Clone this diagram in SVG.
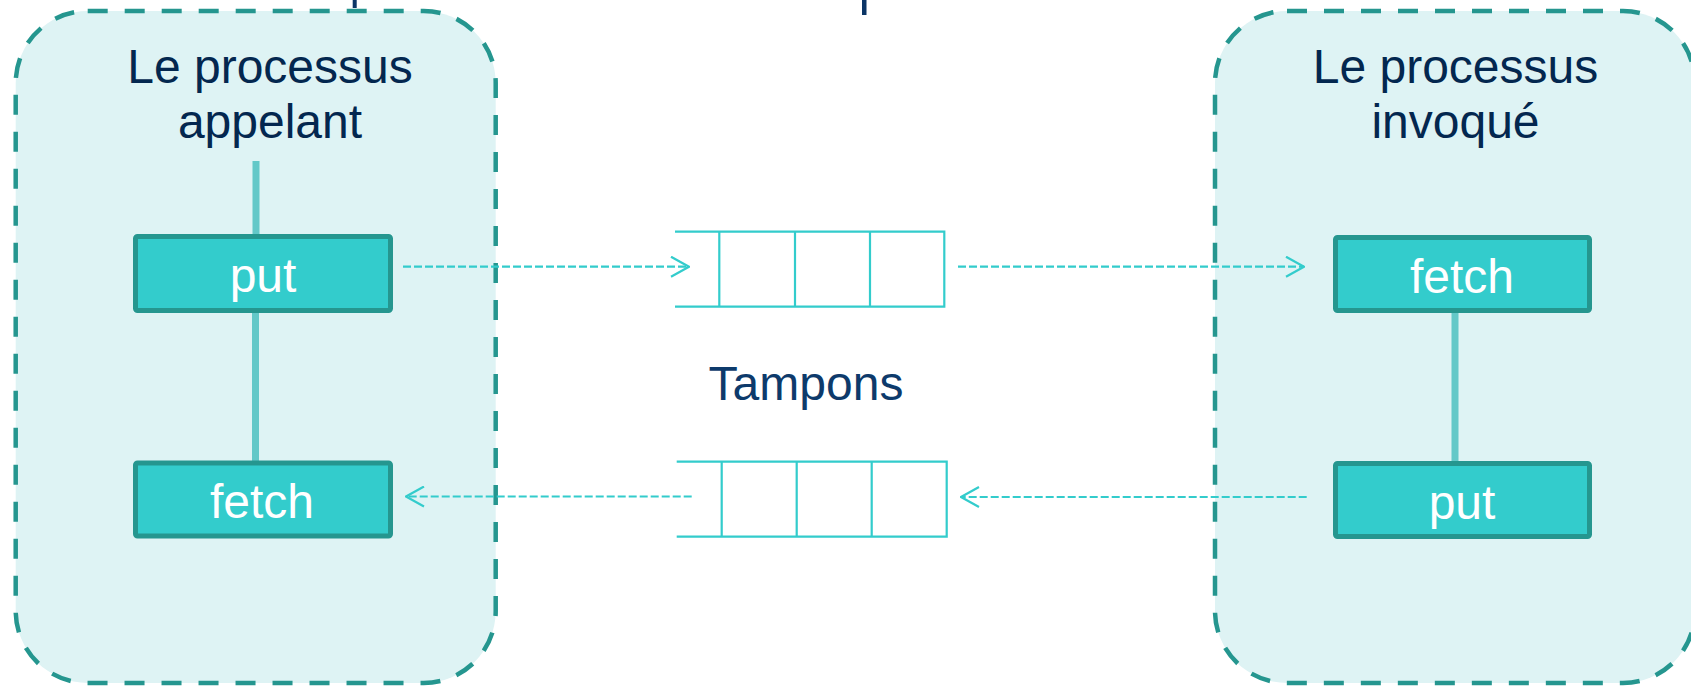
<svg xmlns="http://www.w3.org/2000/svg" width="1691" height="686" viewBox="0 0 1691 686">
  <style>
    .proc { fill: #def3f4; stroke: #25968f; stroke-width: 4.5; stroke-dasharray: 20 17; }
    .title { font-family: "Liberation Sans", Arial, sans-serif; font-size: 48px; fill: #03274f; text-anchor: middle; }
    .op rect { fill: #33cccc; stroke: #25968f; stroke-width: 5; }
    .op text { font-family: "Liberation Sans", Arial, sans-serif; font-size: 48px; fill: #ffffff; text-anchor: middle; }
    .link { stroke: #63c8c8; stroke-width: 7; fill: none; }
    .buf { stroke: #33cccc; stroke-width: 2.2; fill: none; }
    .flow { stroke: #33cccc; stroke-width: 2.2; stroke-dasharray: 8 3; fill: none; }
    .frag { fill: #0b3566; }
  </style>
  <defs>
    <marker id="arrow" viewBox="0 0 20 22" refX="19" refY="11" markerWidth="20" markerHeight="22" markerUnits="userSpaceOnUse" orient="auto">
      <path d="M1,1 L19,11 L1,21" fill="none" stroke="#33cccc" stroke-width="2.2"/>
    </marker>
  </defs>

  <rect class="frag" x="352.7" y="0" width="4" height="8"/>
  <rect class="frag" x="862" y="0" width="4.5" height="15"/>

  <g id="caller">
    <rect class="proc" x="15.7" y="11" width="480" height="672" rx="72" ry="72"/>
    <text class="title" x="270" y="83">Le processus</text>
    <text class="title" x="270" y="138">appelant</text>
  </g>

  <g id="callee">
    <rect class="proc" x="1215" y="11" width="480" height="672" rx="72" ry="72"/>
    <text class="title" x="1455.5" y="83">Le processus</text>
    <text class="title" x="1455.5" y="138">invoqué</text>
  </g>

  <g id="links">
    <line class="link" x1="256" y1="161" x2="256" y2="236"/>
    <line class="link" x1="255.5" y1="311" x2="255.5" y2="463"/>
    <line class="link" x1="1455" y1="311" x2="1455" y2="463"/>
  </g>

  <g id="caller-put" class="op">
    <rect x="135.5" y="236.5" width="255" height="74" rx="2"/>
    <text x="263" y="292">put</text>
  </g>
  <g id="caller-fetch" class="op">
    <rect x="135.5" y="463" width="255" height="73" rx="2"/>
    <text x="262" y="518">fetch</text>
  </g>
  <g id="callee-fetch" class="op">
    <rect x="1335.5" y="237.5" width="254" height="73" rx="2"/>
    <text x="1462" y="293">fetch</text>
  </g>
  <g id="callee-put" class="op">
    <rect x="1335.5" y="463.5" width="254" height="73" rx="2"/>
    <text x="1462" y="519">put</text>
  </g>

  <g id="buffer-top">
    <path class="buf" d="M675,231.7 H944.3 V306.7 H675 M719.3,231.7 V306.7 M795,231.7 V306.7 M870,231.7 V306.7"/>
  </g>
  <g id="buffer-bottom">
    <path class="buf" d="M676.7,461.7 H946.7 V536.7 H676.7 M721.7,461.7 V536.7 M796.7,461.7 V536.7 M871.7,461.7 V536.7"/>
  </g>
  <g id="buffers-label">
    <text x="806" y="400" style="font-family: 'Liberation Sans', Arial, sans-serif; font-size: 48px; fill: #0d3a6b; text-anchor: middle;">Tampons</text>
  </g>

  <g id="connectors">
    <line class="flow" x1="403" y1="266.7" x2="689" y2="266.7" marker-end="url(#arrow)"/>
    <line class="flow" x1="958" y1="266.7" x2="1304" y2="266.7" marker-end="url(#arrow)"/>
    <line class="flow" x1="1306.7" y1="497" x2="961" y2="497" marker-end="url(#arrow)"/>
    <line class="flow" x1="691.7" y1="496.5" x2="406" y2="496.5" marker-end="url(#arrow)"/>
  </g>
</svg>
